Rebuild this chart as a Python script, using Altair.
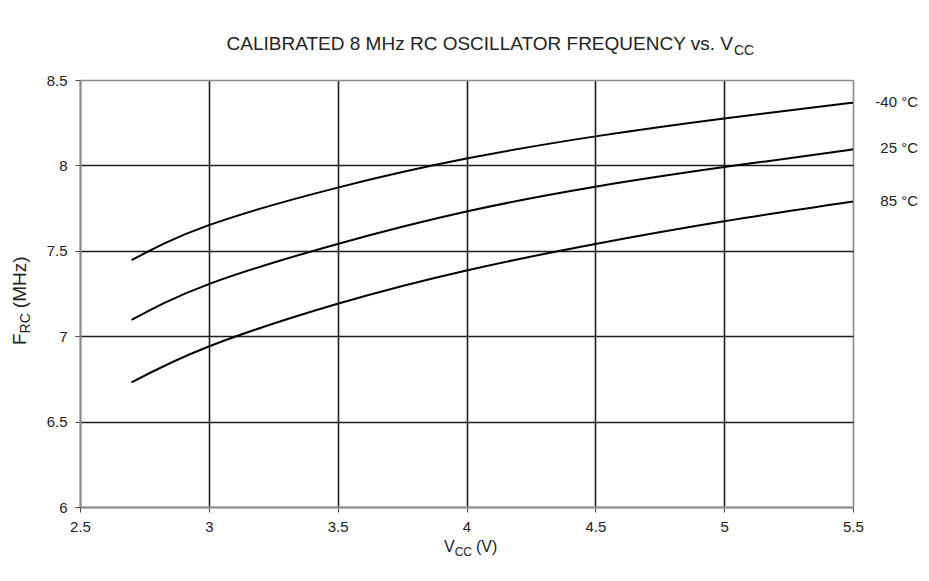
import altair as alt
import pandas as pd

# ---- data ----
vcc = [2.7, 3.0, 3.5, 4.0, 4.5, 5.0, 5.5]
f_m40 = [7.445, 7.65, 7.87, 8.04, 8.17, 8.275, 8.367]
f_25 = [7.095, 7.305, 7.54, 7.73, 7.875, 7.99, 8.094]
f_85 = [6.73, 6.94, 7.19, 7.385, 7.54, 7.673, 7.788]
series_labels = ["-40 °C", "25 °C", "85 °C"]
x_ticks = [2.5, 3, 3.5, 4, 4.5, 5, 5.5]
y_ticks = [6, 6.5, 7, 7.5, 8, 8.5]

rows = []
for lab, ys in zip(series_labels, [f_m40, f_25, f_85]):
    for x, y in zip(vcc, ys):
        rows.append({"series": lab, "vcc": x, "f": y})
df = pd.DataFrame(rows)
end_df = pd.DataFrame({"series": series_labels, "vcc": [vcc[-1]] * 3,
                       "f": [f_m40[-1], f_25[-1], f_85[-1]]})

FONT = "Liberation Sans"
TXT = "#222222"
GRID = "#1e1e1e"
FRAME = "#8c8c8c"
W, H = 773, 427

edge_x = {"condition": {"test": "datum.value == 2.5 || datum.value == 5.5", "value": FRAME}, "value": GRID}
edge_y = {"condition": {"test": "datum.value == 6 || datum.value == 8.5", "value": FRAME}, "value": GRID}

xs = alt.Scale(domain=[2.5, 5.5], nice=False, zero=False)
ys = alt.Scale(domain=[6, 8.5], nice=False, zero=False)

x_axis = alt.Axis(values=x_ticks, format=".1~f", grid=True, gridColor=edge_x, gridWidth=1.6,
                  domainColor=FRAME, domainWidth=2, tickColor="#444", tickSize=5, tickWidth=1,
                  labelFont=FONT, labelFontSize=15, labelColor=TXT, labelPadding=7,
                  labelFlush=False, title=None)
y_axis = alt.Axis(values=y_ticks, format=".1~f", grid=True, gridColor=edge_y, gridWidth=1.6,
                  domainColor=FRAME, domainWidth=2, tickColor="#444", tickSize=5, tickWidth=1,
                  labelFont=FONT, labelFontSize=15, labelColor=TXT, labelPadding=8,
                  labelFlush=False, title=None)

lines = alt.Chart(df).mark_line(color="#000000", strokeWidth=2, interpolate="natural").encode(
    x=alt.X("vcc:Q", scale=xs, axis=x_axis),
    y=alt.Y("f:Q", scale=ys, axis=y_axis),
    detail="series:N",
)

end_labels = alt.Chart(end_df).mark_text(align="right", baseline="middle", dx=65, dy=-1,
                                         font=FONT, fontSize=15, color=TXT).encode(
    x=alt.X("vcc:Q", scale=xs), y=alt.Y("f:Q", scale=ys), text="series:N")

one = pd.DataFrame({"k": [0]})


def txt(s, x, y, size, align="left", angle=0):
    kw = dict(text=s, align=align, baseline="alphabetic", font=FONT, fontSize=size, color=TXT)
    if angle:
        kw["angle"] = angle
    return alt.Chart(one).mark_text(**kw).encode(x=alt.value(x), y=alt.value(y))


# title: main part + subscript
t_main = txt("CALIBRATED 8 MHz RC OSCILLATOR FREQUENCY vs. V", 653, -30, 19, align="right")
t_sub = txt("CC", 654, -25, 14)

# x title: V_CC (V)
xt_v = txt("V", 364, 472, 16)
xt_sub = txt("CC", 374.7, 476, 12)
xt_rest = txt("(V)", 396, 472, 16)

# y title rotated: F_RC (MHz)  (reads bottom->top)
yb = 265
yt_f = txt("F", -54, yb, 19, angle=270)
yt_sub = txt("RC", -50, yb - 11.6, 14, angle=270)
yt_rest = txt("(MHz)", -54, yb - 11.6 - 20.2 - 5, 19, angle=270)

chart = alt.layer(lines, end_labels, t_main, t_sub, xt_v, xt_sub, xt_rest, yt_f, yt_sub, yt_rest).properties(
    width=W, height=H,
    autosize=alt.AutoSizeParams(type="none"),
    padding={"left": 72, "top": 72, "right": 68, "bottom": 66},
).configure_view(stroke=FRAME, strokeWidth=2).configure(background="white")

chart.save("out.html", embed_options={"renderer": "svg", "actions": False})
